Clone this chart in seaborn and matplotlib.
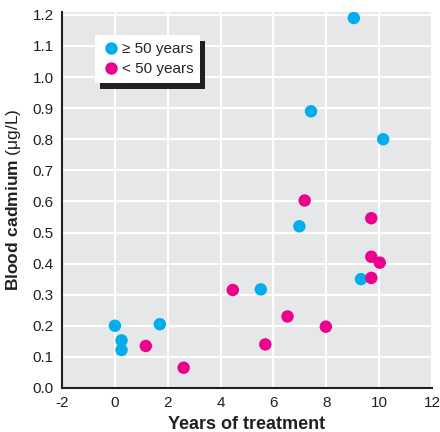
import numpy as np
import pandas as pd
import matplotlib
matplotlib.use("Agg")
import matplotlib.pyplot as plt
import seaborn as sns
from matplotlib.patches import Rectangle

# Werte
years_old = [9.04, 7.42, 10.15, 6.98, 5.52, 9.31, 0.0, 0.25, 0.25, 1.70]
cadmium_old = [1.19, 0.89, 0.80, 0.52, 0.317, 0.35, 0.20, 0.153, 0.122, 0.205]
years_young = [7.18, 9.70, 9.70, 10.02, 9.70, 4.46, 6.53, 7.98, 5.69, 1.17, 2.60]
cadmium_young = [0.603, 0.546, 0.422, 0.403, 0.354, 0.315, 0.23, 0.197, 0.14, 0.135, 0.065]
group_labels = ["\u2265 50 years", "< 50 years"]
x_ticks = [-2, 0, 2, 4, 6, 8, 10, 12]
y_ticks = [0.0, 0.1, 0.2, 0.3, 0.4, 0.5, 0.6, 0.7, 0.8, 0.9, 1.0, 1.1, 1.2]

df = pd.DataFrame({
    "years": years_old + years_young,
    "cadmium": cadmium_old + cadmium_young,
    "group": [group_labels[0]] * len(years_old) + [group_labels[1]] * len(years_young),
})

sns.set_style("white")
plt.rcParams["font.family"] = ["Liberation Sans Narrow", "Liberation Sans", "DejaVu Sans"]
plt.rcParams["mathtext.fontset"] = "custom"
plt.rcParams["mathtext.bf"] = "Liberation Sans:bold"
plt.rcParams["mathtext.rm"] = "Liberation Sans"

fig = plt.figure(figsize=(4.4, 4.32), dpi=100)
ax = fig.add_axes([0.141, 0.102, 0.841, 0.870])
ax.set_facecolor("#e6e7e8")

sns.scatterplot(data=df, x="years", y="cadmium", hue="group",
                palette={group_labels[0]: "#00aeef", group_labels[1]: "#ec008c"},
                s=80, edgecolor="none", linewidth=0, ax=ax, zorder=3)

ax.set_xlim(-2, 12)
ax.set_ylim(0, 1.209)
ax.set_xticks(x_ticks)
ax.set_yticks(y_ticks)
ax.set_xticklabels([str(t) for t in x_ticks])
ax.set_yticklabels([f"{t:.1f}" for t in y_ticks])
ax.grid(True, color="white", linewidth=1.5)
ax.set_axisbelow(True)
ax.tick_params(length=0, labelsize=11, pad=6, colors="#231f20")

for side in ["top", "right"]:
    ax.spines[side].set_visible(False)
for side in ["left", "bottom"]:
    ax.spines[side].set_color("#231f20")
    ax.spines[side].set_linewidth(1.5)

ax.set_xlabel("Years of treatment", fontsize=13, fontweight="bold", color="#231f20", labelpad=4)
ax.set_ylabel(r"$\mathbf{Blood\ cadmium}$ ($\mathrm{\mu}$g/L)", fontsize=12.5, color="#231f20", labelpad=7)

leg = ax.legend(loc="upper left", bbox_to_anchor=(0.089, 0.939), borderaxespad=0,
                frameon=True, fancybox=False, fontsize=11, handletextpad=0.1,
                handlelength=1.2, borderpad=0.45, labelspacing=0.4, markerscale=1.0)
leg.get_frame().set_facecolor("white")
leg.get_frame().set_edgecolor("none")
leg.get_frame().set_alpha(1)
leg.set_zorder(10)

# Schatten hinter der Legende
fig.canvas.draw()
bb = leg.get_window_extent()
shadow = Rectangle((bb.x0 + 5, bb.y0 - 6), bb.width, bb.height,
                   transform=None, facecolor="#231f20", edgecolor="none", zorder=9)
ax.add_artist(shadow)

fig.savefig("out.png", dpi=100)
